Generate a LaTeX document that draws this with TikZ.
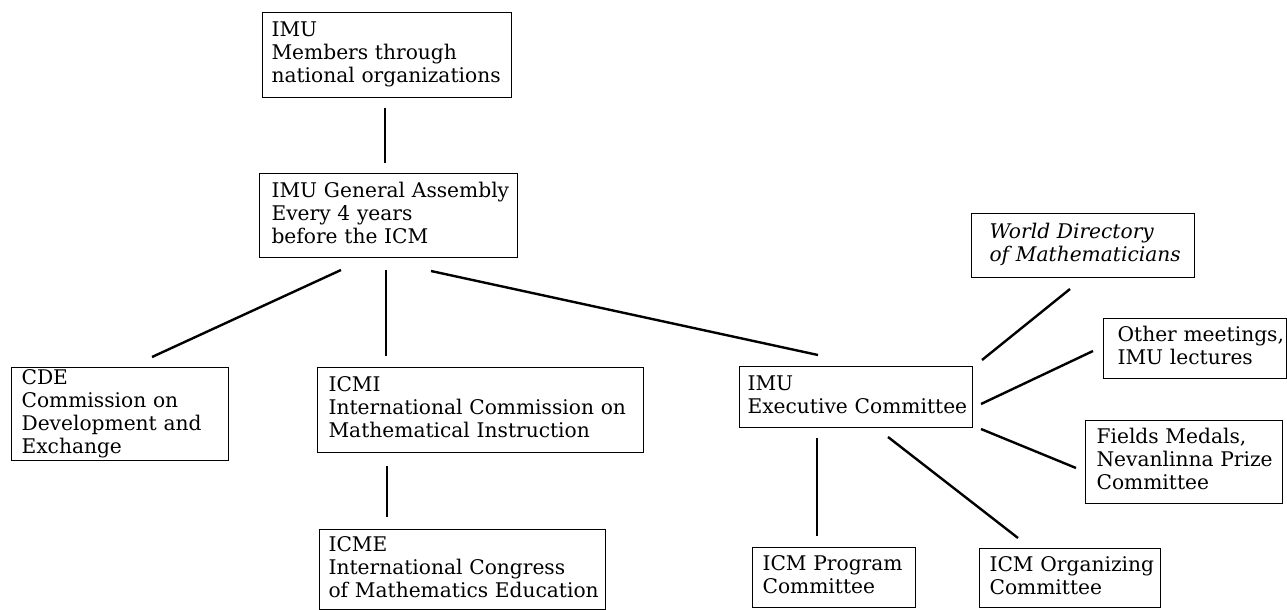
\documentclass[tikz,border=0pt]{standalone}
\usepackage{fontspec}
\setmainfont{DejaVu Serif}
\tikzset{
  box/.style={draw, line width=1.1pt, anchor=north west, align=left, inner ysep=0pt, font=\fontsize{20.2}{23}\selectfont},
  link/.style={line width=2.4pt}
}
\newcommand\bx[7]{%
  \pgfmathsetmacro\bxw{#4-#2}%
  \pgfmathsetmacro\bxh{#5-#3}%
  \pgfmathsetmacro\bxt{#4-#2-2*#6}%
  \node[box, minimum width=\bxw pt, minimum height=\bxh pt, text width=\bxt pt, inner xsep=#6pt] (#1) at (#2pt,-#3pt) {\begin{tabular}{@{}l@{}}#7\end{tabular}};}
\begin{document}
\begin{tikzpicture}[x=1pt,y=-1pt]
\useasboundingbox (0,0) rectangle (1287,610);
\bx{imu}{262}{12}{511}{97}{9}{IMU\\Members through\\national organizations}
\bx{ga}{259}{173}{517}{257}{12}{IMU General Assembly\\Every 4 years\\before the ICM}
\bx{cde}{11}{367}{228}{460}{10}{CDE\\Commission on\\Development and\\Exchange}
\bx{icmi}{317}{367}{643}{452}{11}{ICMI\\International Commission on\\Mathematical Instruction}
\bx{icme}{319}{529}{605}{609}{9}{ICME\\International Congress\\of Mathematics Education}
\bx{exec}{739}{366}{972}{427}{8}{IMU\\Executive Committee}
\bx{wd}{971}{213}{1194}{277}{18}{\itshape World Directory\\\itshape of Mathematicians}
\bx{other}{1103}{318}{1286}{378}{14}{Other meetings,\\IMU lectures}
\bx{fields}{1085}{420}{1282}{503}{11}{Fields Medals,\\Nevanlinna Prize\\Committee}
\bx{prog}{752}{547}{915}{607}{10}{ICM Program\\Committee}
\bx{org}{979}{548}{1160}{607}{10}{ICM Organizing\\Committee}
% connector end points
\coordinate (a1) at (385,108); \coordinate (a2) at (385,163);
\coordinate (b1) at (341,270); \coordinate (b2) at (152,357);
\coordinate (c1) at (386,270); \coordinate (c2) at (386,356);
\coordinate (d1) at (431,271); \coordinate (d2) at (818,355);
\coordinate (e1) at (387,466); \coordinate (e2) at (387,517);
\coordinate (f1) at (982,360); \coordinate (f2) at (1070,289);
\coordinate (g1) at (981,404); \coordinate (g2) at (1093,351);
\coordinate (h1) at (981,429); \coordinate (h2) at (1076,468);
\coordinate (i1) at (817,438); \coordinate (i2) at (817,536);
\coordinate (j1) at (888,437); \coordinate (j2) at (1018,538);
\draw[link] (a1) -- (a2);
\draw[link] (b1) -- (b2);
\draw[link] (c1) -- (c2);
\draw[link] (d1) -- (d2);
\draw[link] (e1) -- (e2);
\draw[link] (f1) -- (f2);
\draw[link] (g1) -- (g2);
\draw[link] (h1) -- (h2);
\draw[link] (i1) -- (i2);
\draw[link] (j1) -- (j2);
\end{tikzpicture}
\end{document}
